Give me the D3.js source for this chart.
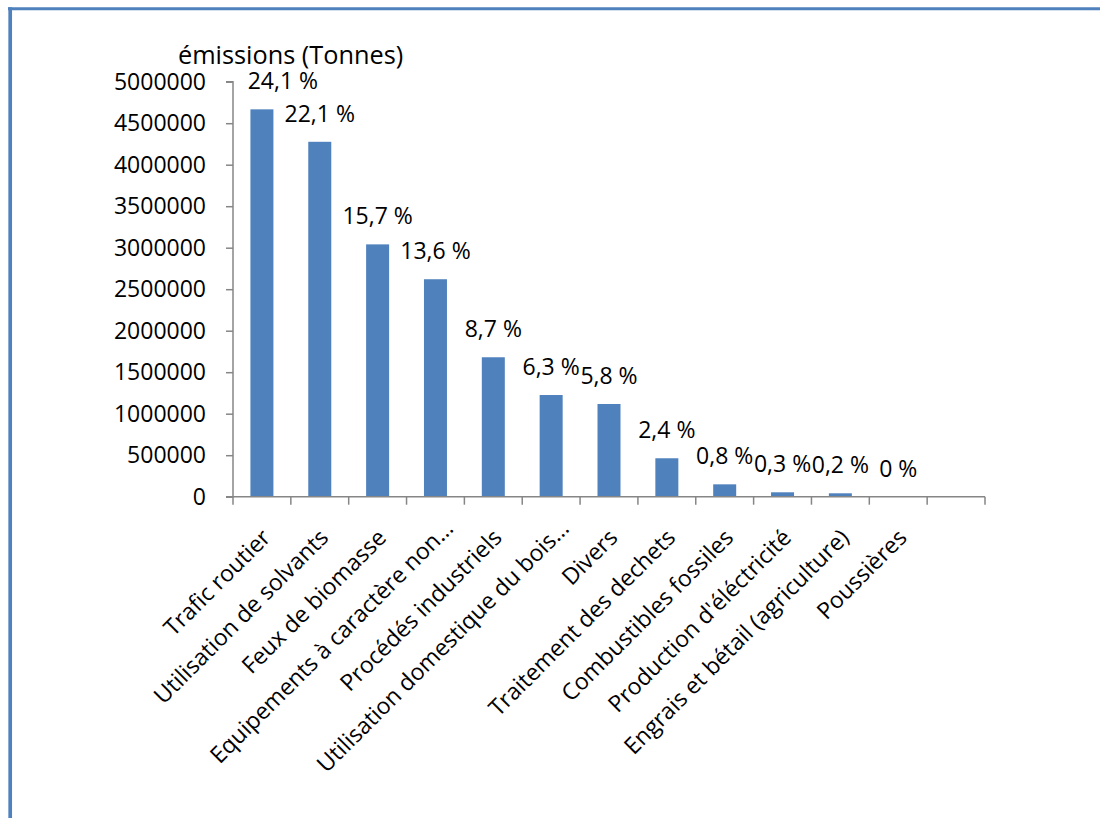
<!DOCTYPE html>
<html><head><meta charset="utf-8">
<script src="https://cdnjs.cloudflare.com/ajax/libs/d3/7.8.5/d3.min.js"></script>
<style>
html,body{margin:0;padding:0;background:#fff;}
svg{display:block;font-family:"Open Sans",sans-serif;}
</style></head>
<body>
<svg id="chart" width="1100" height="818"></svg>
<script>
const categories = ["Trafic routier","Utilisation de solvants","Feux de biomasse","Equipements à caractère non…","Procédés industriels","Utilisation domestique du bois…","Divers","Traitement des dechets","Combustibles fossiles","Production d'éléctricité","Engrais et bétail (agriculture)","Poussières",""];
const emissions = [4667000,4276000,3040000,2620000,1680000,1225000,1117000,463000,149000,53000,41000,0,null];
const percentLabels = ["24,1 %","22,1 %","15,7 %","13,6 %","8,7 %","6,3 %","5,8 %","2,4 %","0,8 %","0,3 %","0,2 %","0 %",""];
const yTicks = [0,500000,1000000,1500000,2000000,2500000,3000000,3500000,4000000,4500000,5000000];
const yTitle = "émissions (Tonnes)";

const svg = d3.select("#chart");
const blue = "#4F81BD", axisCol = "#868686";

// frame border (top + left)
svg.append("line").attr("x1",8).attr("x2",1100).attr("y1",8.7).attr("y2",8.7).attr("stroke",blue).attr("stroke-width",3);
svg.append("line").attr("x1",10.2).attr("x2",10.2).attr("y1",7.2).attr("y2",818).attr("stroke",blue).attr("stroke-width",3.7);

const x0 = 233, x1 = 985, yBase = 496.7, yTop = 81.7;
const xb = d3.scaleBand().domain(d3.range(categories.length)).range([x0,x1]);
const y = d3.scaleLinear().domain([0,5000000]).range([yBase,yTop]);

// bars
svg.append("g").selectAll("rect").data(emissions.map((v,i)=>({v,i})).filter(d=>d.v!=null && d.v>0))
  .enter().append("rect")
  .attr("x",d=>xb(d.i)+xb.bandwidth()/2-11.5)
  .attr("width",23)
  .attr("y",d=>y(d.v))
  .attr("height",d=>yBase-y(d.v))
  .attr("fill",blue);

// y axis
const yAxis = d3.axisLeft(y).tickValues(yTicks).tickFormat(d3.format("d")).tickSize(7).tickPadding(20);
const gy = svg.append("g").attr("transform",`translate(${x0},0)`).call(yAxis);
gy.select(".domain").attr("stroke",axisCol).attr("stroke-width",1.5).attr("d",`M-7,${yTop}H0V${yBase}H-7`);
gy.selectAll(".tick line").attr("stroke",axisCol).attr("stroke-width",1.5);
gy.selectAll(".tick text").attr("font-size",23).attr("fill","#000").attr("font-family","Open Sans");

// x axis
const boundaries = d3.range(categories.length+1).map(i=>x0+i*xb.step());
const gx = svg.append("g");
gx.append("line").attr("x1",x0).attr("x2",x1).attr("y1",yBase).attr("y2",yBase).attr("stroke",axisCol).attr("stroke-width",1.5);
gx.selectAll("line.tk").data(boundaries).enter().append("line").attr("class","tk")
  .attr("x1",d=>d).attr("x2",d=>d).attr("y1",yBase).attr("y2",yBase+8).attr("stroke",axisCol).attr("stroke-width",1.5);
gx.selectAll("text").data(categories).enter().append("text")
  .attr("transform",(d,i)=>`translate(${xb(i)+xb.bandwidth()/2+10},539) rotate(-45)`)
  .attr("text-anchor","end").attr("font-size",23).attr("fill","#000")
  .attr("dx",d=>d.endsWith("…")?13:0)
  .text(d=>d);

// data labels
svg.append("g").selectAll("text").data(percentLabels.map((t,i)=>({t,i,v:emissions[i]})).filter(d=>d.t))
  .enter().append("text")
  .attr("x",d=>xb(d.i)+xb.bandwidth()/2 + (d.i===0?21:0))
  .attr("y",d=>y(d.v)-20)
  .attr("text-anchor","middle").attr("font-size",23).attr("fill","#000")
  .text(d=>d.t);

// title
svg.append("text").attr("x",178).attr("y",64).attr("font-size",25.3).attr("fill","#000").text(yTitle);
</script>
</body></html>
